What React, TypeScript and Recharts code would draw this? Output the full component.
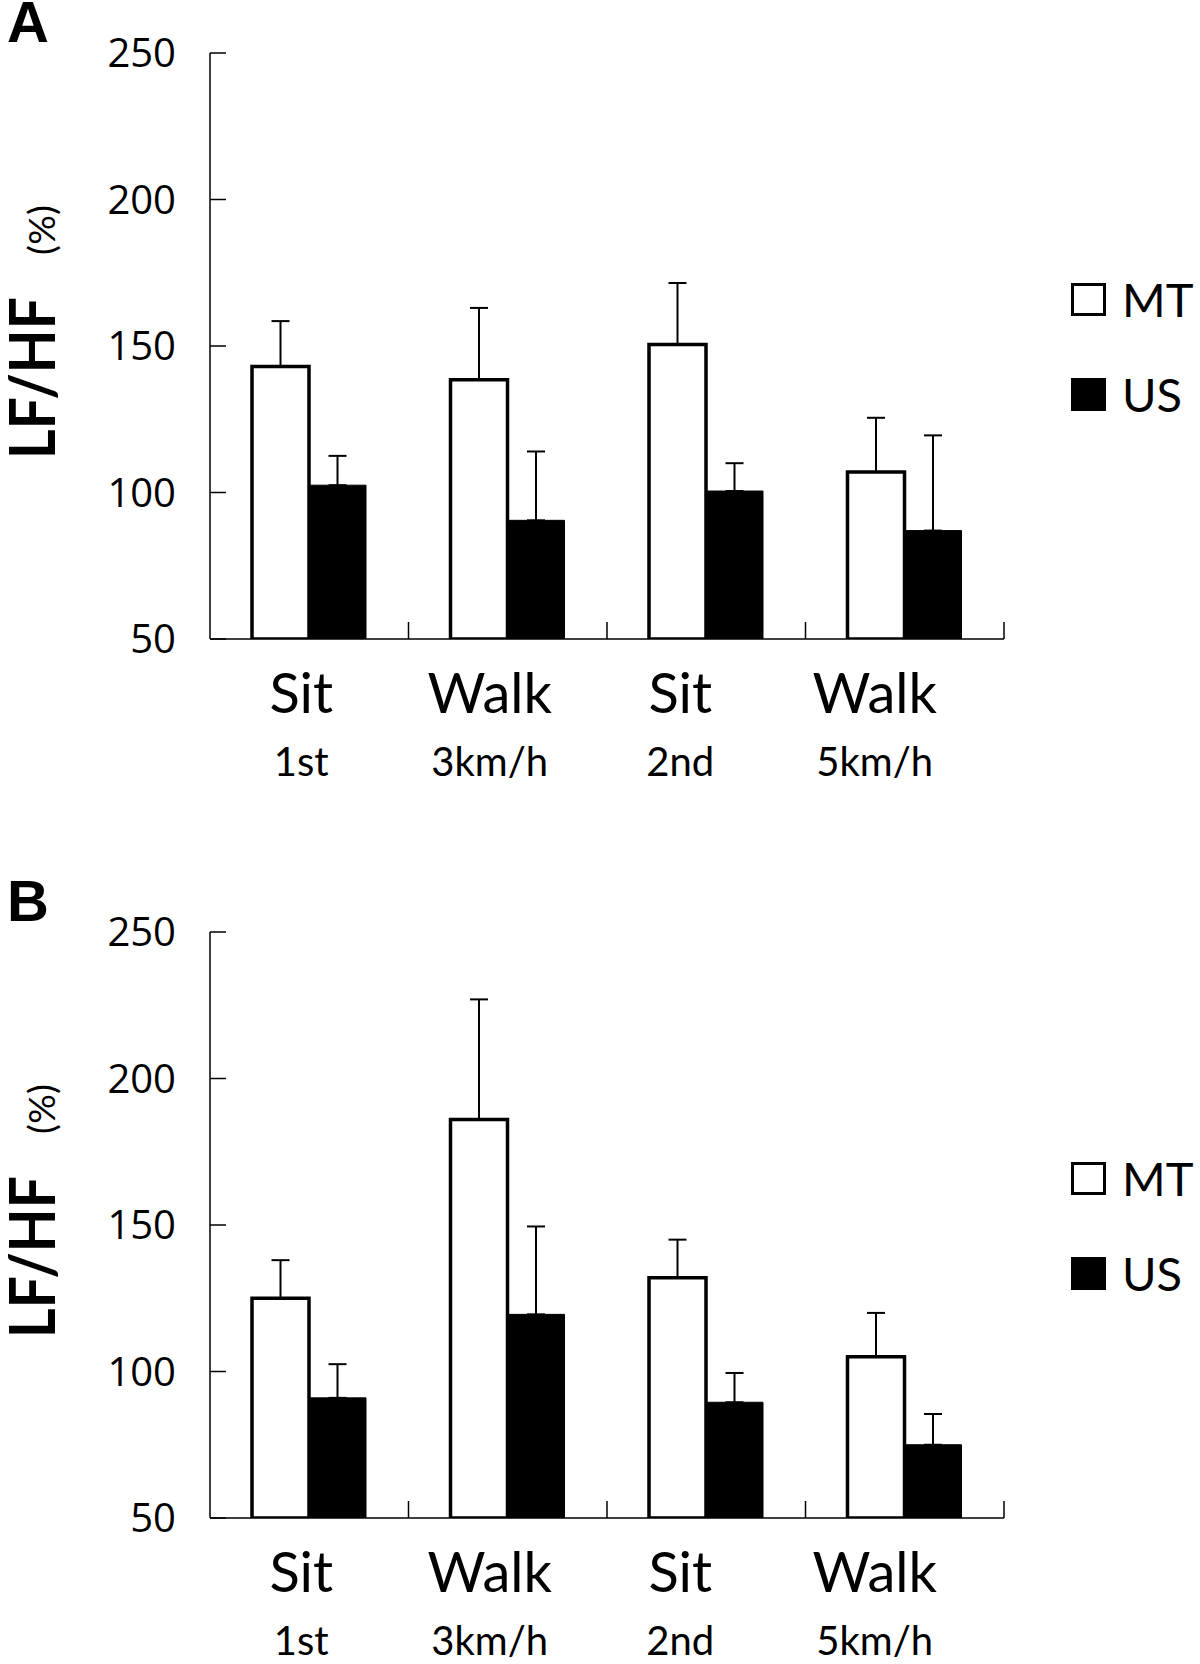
import React from 'react';
import { BarChart, Bar, XAxis, YAxis, ErrorBar } from 'recharts';

// categories shared by both panels
const phases = ['Sit', 'Walk', 'Sit', 'Walk'];
const phaseNotes = ['1st', '3km/h', '2nd', '5km/h'];
const yTicks = [50, 100, 150, 200, 250];

// panel A (means and upper SD)
const mtA = [143, 138.5, 150.5, 107];
const mtErrA = [15.5, 24.5, 21, 18.5];
const usA = [102.5, 90.5, 100.5, 87];
const usErrA = [10, 23.5, 9.5, 32.5];

// panel B
const mtB = [125, 186, 132, 105];
const mtErrB = [13, 41, 13, 15];
const usB = [91, 119.5, 89.5, 75];
const usErrB = [11.5, 30, 10, 10.5];

// the original category labels drift a little left of the bar groups
const labelShift = [-8, -18, -26, -30];

const buildRows = (mt: number[], mtErr: number[], us: number[], usErr: number[]) =>
  phases.map((p, i) => ({
    key: `${p} ${phaseNotes[i]}`,
    MT: mt[i],
    mtErr: [0, mtErr[i]],
    US: us[i],
    usErr: [0, usErr[i]],
  }));

const PLOT_TOP = 53;
const PLOT_H = 586;

function PhaseTick(props: any) {
  const { x, y, payload, index } = props;
  const half = payload && payload.offset ? payload.offset : 99;
  const lx = x + labelShift[index];
  return (
    <g>
      <line x1={x + half} y1={y} x2={x + half} y2={y - 17} stroke="#000" strokeWidth={1.5} />
      <text x={lx} y={y + 74} textAnchor="middle" fontFamily="Lato" fontSize={56} fill="#000">
        {phases[index]}
      </text>
      <text x={lx} y={y + 137} textAnchor="middle" fontFamily="Lato" fontSize={40} fill="#000">
        {phaseNotes[index]}
      </text>
    </g>
  );
}

function ValueTick(props: any) {
  const { x, y, payload } = props;
  return (
    <g>
      <line x1={x + 34} y1={y} x2={x + 50} y2={y} stroke="#000" strokeWidth={1.5} />
      <text x={x} y={y} dy="0.36em" textAnchor="end" fontFamily="Open Sans" fontSize={40} fill="#000">
        {payload.value}
      </text>
    </g>
  );
}

function RatioLabel(props: any) {
  const vb = props.viewBox || { x: 0, y: PLOT_TOP, height: PLOT_H };
  const cy = vb.y + vb.height / 2 + 32;
  const py = vb.y + 177;
  return (
    <g>
      <text
        x={55}
        y={cy}
        transform={`rotate(-90, 55, ${cy})`}
        textAnchor="middle"
        fontFamily="Lato"
        fontWeight="bold"
        fontSize={64}
        textLength={162}
        lengthAdjust="spacingAndGlyphs"
        fill="#000"
      >
        LF/HF
      </text>
      <text
        x={55}
        y={py}
        transform={`rotate(-90, 55, ${py})`}
        textAnchor="middle"
        fontFamily="Lato"
        fontSize={37}
        textLength={50}
        lengthAdjust="spacing"
        fill="#000"
      >
        (%)
      </text>
    </g>
  );
}

function Key() {
  const row = (label: string, fill: string, top: number) => (
    <div style={{ position: 'absolute', left: 1071, top, display: 'flex', alignItems: 'center' }}>
      <div style={{ width: 29, height: 27, border: '3px solid #000', background: fill }} />
      <span style={{ marginLeft: 16, fontFamily: 'Lato', fontSize: 47, lineHeight: '34px', color: '#000' }}>{label}</span>
    </div>
  );
  return (
    <>
      {row('MT', '#fff', 282)}
      {row('US', '#000', 377)}
    </>
  );
}

function Panel({ letter, letterTop, rows, height, axisH }: any) {
  return (
    <div style={{ position: 'relative', width: 1200, height }}>
      <BarChart
        width={1200}
        height={height}
        data={rows}
        margin={{ top: PLOT_TOP, right: 196, left: 0, bottom: height - PLOT_TOP - PLOT_H - axisH }}
        barSize={57}
        barGap={0}
        barCategoryGap={42}
      >
        <XAxis
          dataKey="key"
          height={axisH}
          tickSize={0}
          tickMargin={0}
          tick={<PhaseTick />}
          interval={0}
          axisLine={{ stroke: '#000', strokeWidth: 1.5 }}
        />
        <YAxis
          width={210}
          domain={[50, 250]}
          ticks={yTicks}
          allowDataOverflow
          tickSize={0}
          tickMargin={34}
          tick={<ValueTick />}
          axisLine={{ stroke: '#000', strokeWidth: 1.5 }}
          label={<RatioLabel />}
        />
        <Bar dataKey="MT" fill="#fff" stroke="#000" strokeWidth={3.5} isAnimationActive={false}>
          <ErrorBar dataKey="mtErr" direction="y" width={9} stroke="#000" strokeWidth={2} isAnimationActive={false} />
        </Bar>
        <Bar dataKey="US" fill="#000" stroke="#000" strokeWidth={1} isAnimationActive={false}>
          <ErrorBar dataKey="usErr" direction="y" width={9} stroke="#000" strokeWidth={2} isAnimationActive={false} />
        </Bar>
      </BarChart>
      <div
        style={{
          position: 'absolute',
          left: 7,
          top: letterTop,
          fontFamily: '"Liberation Sans", Arial, sans-serif',
          fontWeight: 'bold',
          fontSize: 58,
          lineHeight: '40px',
          color: '#000',
        }}
      >
        {letter}
      </div>
      <Key />
    </div>
  );
}

export default function App() {
  const rowsA = buildRows(mtA, mtErrA, usA, usErrA);
  const rowsB = buildRows(mtB, mtErrB, usB, usErrB);
  return (
    <div style={{ position: 'absolute', left: 0, top: 0, width: 1200, height: 1664, background: '#fff', overflow: 'hidden' }}>
      <Panel letter="A" letterTop={2} rows={rowsA} height={879} axisH={150} />
      <Panel letter="B" letterTop={2} rows={rowsB} height={785} axisH={146} />
    </div>
  );
}
